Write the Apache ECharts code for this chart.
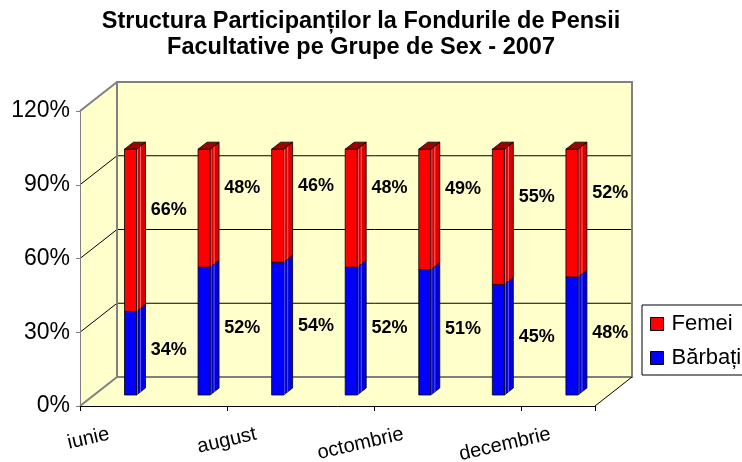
<!DOCTYPE html>
<html>
<head>
<meta charset="utf-8">
<script src="https://cdn.jsdelivr.net/npm/echarts@6/dist/echarts.min.js"></script>
<style>
  html, body { margin: 0; padding: 0; background: #fff; }
  #chart { width: 742px; height: 462px; }
</style>
</head>
<body>
<div id="chart"></div>
<script>
const luni = ['iunie', 'iulie', 'august', 'septembrie', 'octombrie', 'noiembrie', 'decembrie'];
const barbati = [34, 52, 54, 52, 51, 45, 48];
const femei = [66, 48, 46, 48, 49, 55, 52];
const yTicks = [0, 30, 60, 90, 120];

const FONT = '"Liberation Sans", Arial, sans-serif';
const DEPTH = [37, -29];      // front plane -> back wall
const BAR_OFF = [13.7, -11];  // front plane -> front face of the bars
const BAR_HALF = 6;
const SIDE = [9, -7];
const LABEL_DX = 52;

// floor, side wall and back wall of the 3d box
function renderWalls(params, api) {
    const cs = params.coordSys;
    const x0 = cs.x, x1 = cs.x + cs.width, yt = cs.y, yb = cs.y + cs.height;
    const dx = DEPTH[0], dy = DEPTH[1];
    const wall = '#FFFFCC';
    const kids = [
        {type: 'rect', shape: {x: x0 + dx, y: yt + dy, width: cs.width, height: cs.height}, style: {fill: wall}},
        {type: 'polygon', shape: {points: [[x0, yb], [x1, yb], [x1 + dx, yb + dy], [x0 + dx, yb + dy]]}, style: {fill: wall}},
        {type: 'polygon', shape: {points: [[x0, yt], [x0 + dx, yt + dy], [x0 + dx, yb + dy], [x0, yb]]}, style: {fill: wall}}
    ];
    yTicks.forEach(v => {
        const y = api.coord([0, v])[1];
        const edge = v === yTicks[0] || v === yTicks[yTicks.length - 1];
        kids.push({type: 'line', shape: {x1: x0, y1: y, x2: x0 + dx, y2: y + dy},
            style: {stroke: edge ? '#808080' : '#000', lineWidth: edge ? 2 : 1}});
        if (!edge) {
            kids.push({type: 'line', shape: {x1: x0 + dx, y1: y + dy, x2: x1 + dx, y2: y + dy},
                style: {stroke: '#000', lineWidth: 1}});
        }
    });
    kids.push({type: 'rect', shape: {x: x0 + dx, y: yt + dy, width: cs.width, height: cs.height},
        style: {fill: null, stroke: '#808080', lineWidth: 2}});
    kids.push({type: 'line', shape: {x1: x1, y1: yb, x2: x1 + dx, y2: yb + dy}, style: {stroke: '#000', lineWidth: 1}});
    return {type: 'group', children: kids};
}

function barRenderer(col, withTop, labelDy) {
    return function (params, api) {
        const i = api.value(0), v0 = api.value(1), v1 = api.value(2);
        const p0 = api.coord([i, v0]), p1 = api.coord([i, v1]);
        const cx = p0[0] + BAR_OFF[0];
        const yb = p0[1] + BAR_OFF[1], yt = p1[1] + BAR_OFF[1];
        const l = cx - BAR_HALF, r = cx + BAR_HALF;
        const sx = SIDE[0], sy = SIDE[1];
        const line = {stroke: '#000', lineWidth: 0.8};
        const kids = [
            {type: 'polygon', shape: {points: [[r, yb], [r + sx, yb + sy], [r + sx, yt + sy], [r, yt]]},
                style: Object.assign({fill: col.side}, line)},
            {type: 'line', shape: {x1: r + sx * 0.45, y1: yb + sy * 0.45, x2: r + sx * 0.45, y2: yt + sy * 0.45},
                style: {stroke: col.light, lineWidth: 1}},
            {type: 'line', shape: {x1: r + 1, y1: yb, x2: r + 1, y2: yt}, style: {stroke: col.light, lineWidth: 1}},
            {type: 'rect', shape: {x: l, y: yt, width: BAR_HALF * 2, height: yb - yt},
                style: Object.assign({fill: col.front}, line)}
        ];
        if (withTop) {
            kids.push({type: 'polygon', shape: {points: [[l, yt], [r, yt], [r + sx, yt + sy], [l + sx, yt + sy]]},
                style: Object.assign({fill: col.top}, line)});
        }
        const mid = api.coord([i, (v0 + v1) / 2]);
        kids.push({type: 'text', x: mid[0] + LABEL_DX, y: mid[1] + BAR_OFF[1] + labelDy,
            style: {text: api.value(3) + '%', font: 'bold 18px ' + FONT, fill: '#000',
                align: 'center', verticalAlign: 'middle'}});
        return {type: 'group', children: kids};
    };
}

const chart = echarts.init(document.getElementById('chart'));

chart.setOption({
    animation: false,
    backgroundColor: '#fff',
    textStyle: {fontFamily: FONT},
    title: {
        text: 'Structura Participanților la Fondurile de Pensii\nFacultative pe Grupe de Sex - 2007',
        left: 361, top: 9, textAlign: 'center', padding: 0,
        textStyle: {fontSize: 23.5, fontWeight: 'bold', lineHeight: 26, color: '#000', fontFamily: FONT}
    },
    legend: {
        data: ['Femei', 'Bărbați'],
        orient: 'vertical', left: 642, top: 305,
        icon: 'rect', itemWidth: 13, itemHeight: 13, itemGap: 12,
        padding: [8, 10, 6, 8],
        backgroundColor: '#fff', borderColor: '#000', borderWidth: 1, borderRadius: 0,
        itemStyle: {borderColor: '#000', borderWidth: 1},
        textStyle: {fontSize: 22, color: '#000', fontFamily: FONT, padding: [0, 0, 0, 3]},
        selectedMode: false
    },
    grid: {left: 80, right: 147, top: 111, bottom: 56, containLabel: false, outerBoundsMode: 'none'},
    xAxis: {
        type: 'category', data: luni, boundaryGap: true,
        axisLine: {show: true, lineStyle: {color: '#000', width: 1}},
        axisTick: {show: true, interval: 1, length: 5, lineStyle: {color: '#000'}},
        axisLabel: {interval: 1, rotate: 13, margin: 26, fontSize: 20, color: '#000', padding: [0, 8, 0, 0]},
        splitLine: {show: false}
    },
    yAxis: {
        type: 'value', min: 0, max: 120, interval: 30,
        axisLine: {show: true, lineStyle: {color: '#808080'}},
        axisTick: {show: true, length: 4, lineStyle: {color: '#808080'}},
        axisLabel: {formatter: '{value}%', fontSize: 23, color: '#000', margin: 10},
        splitLine: {show: false}
    },
    series: [
        {
            name: 'walls', type: 'custom', z: -1, silent: true,
            renderItem: renderWalls,
            data: [[0, 0]]
        },
        {
            name: 'Bărbați', type: 'custom', z: 3,
            itemStyle: {color: '#0000FF'},
            renderItem: barRenderer({front: '#0000FF', side: '#0000D8', light: '#5A5AFF', top: '#000099'}, false, -3),
            data: barbati.map((b, i) => [i, 0, b, b])
        },
        {
            name: 'Femei', type: 'custom', z: 3,
            itemStyle: {color: '#FF0000'},
            renderItem: barRenderer({front: '#FF0000', side: '#DC0000', light: '#FF6A6A', top: '#A00000'}, true, -20),
            data: femei.map((f, i) => [i, barbati[i], barbati[i] + f, f])
        }
    ]
});
</script>
</body>
</html>
